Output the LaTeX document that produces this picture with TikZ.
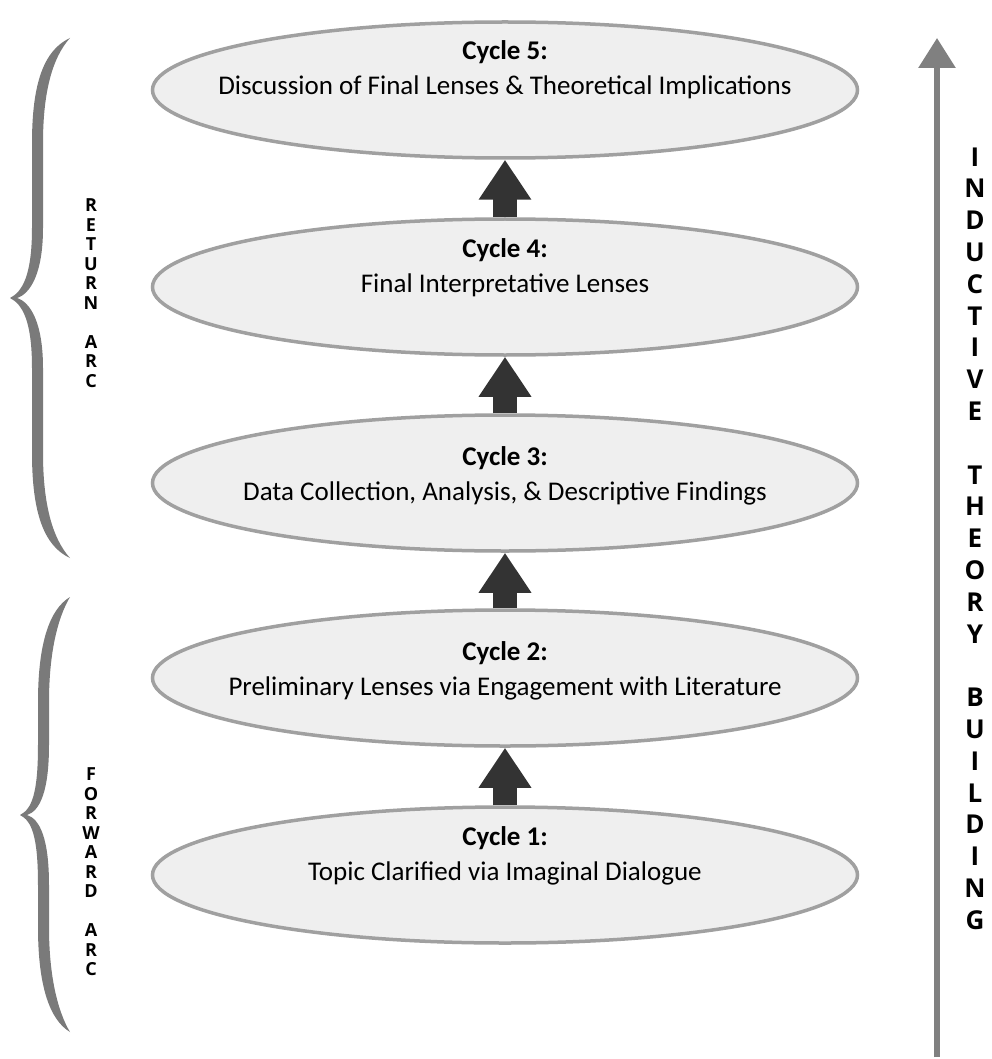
\documentclass[tikz,border=0pt]{standalone}
\usepackage{fontspec}
\setmainfont{Carlito}
\newfontfamily\letterfont{Open Sans}
\usetikzlibrary{arrows.meta,shapes.geometric}
\definecolor{ellfill}{HTML}{EFEFEF}
\definecolor{elldraw}{HTML}{A0A0A0}
\definecolor{arrdark}{HTML}{333333}
\definecolor{bracecol}{HTML}{7A7A7A}
\definecolor{rightcol}{HTML}{808080}
% #1 top y, #2 tip y, #3 bottom y, #4 tip x, #5 bar left x
\newcommand\bracefill[5]{%
\fill[bracecol] (70,#1) .. controls ({#5+12},{#1+12}) and (#5,{#1+45}) .. (#5,{#1+105})
 -- (#5,{#2-70}) .. controls (#5,{#2-22}) and ({#4+12},{#2-6}) .. (#4,#2)
 .. controls ({#4+12},{#2+6}) and (#5,{#2+22}) .. (#5,{#2+70})
 -- (#5,{#3-105}) .. controls (#5,{#3-45}) and ({#5+12},{#3-12}) .. (70,#3)
 .. controls ({#5+20},{#3-20}) and ({#5+11},{#3-55}) .. ({#5+11},{#3-105})
 -- ({#5+11},{#2+70}) .. controls ({#5+11},{#2+24}) and ({#4+20},{#2+4}) .. ({#4+7},#2)
 .. controls ({#4+20},{#2-4}) and ({#5+11},{#2-24}) .. ({#5+11},{#2-70})
 -- ({#5+11},{#1+105}) .. controls ({#5+11},{#1+55}) and ({#5+20},{#1+20}) .. (70,#1) -- cycle;}
\begin{document}
\begin{tikzpicture}[x=1pt,y=-1pt,
  cycle/.style={ellipse, draw=elldraw, line width=3.5pt, fill=ellfill,
    minimum width=705pt, minimum height=136pt, inner sep=0pt},
  cyctext/.style={align=center, font=\fontsize{27}{35}\selectfont, text=black, inner sep=0pt},
  uparrow/.style={draw=arrdark, line width=24pt, -{Triangle[width=50pt,length=40pt]}},
  bigarrow/.style={draw=rightcol, line width=6pt, -{Triangle[width=36pt,length=30pt]}},
  rightletters/.style={align=center, font=\letterfont\bfseries\fontsize{26}{31.8}\selectfont, inner sep=0pt},
  leftletters/.style={align=center, font=\letterfont\bfseries\fontsize{18}{19.5}\selectfont, inner sep=0pt}]
\useasboundingbox (0,0) rectangle (991,1059);
\fill[white] (0,0) rectangle (991,1059);

\node[cycle] (c5) at (505,90) {};
\node[cycle] (c4) at (505,287) {};
\node[cycle] (c3) at (505,483) {};
\node[cycle] (c2) at (505,678) {};
\node[cycle] (c1) at (505,875) {};

\node[cyctext] (t5) at (505,70) {\textbf{Cycle 5:}\\Discussion of Final Lenses \& Theoretical Implications};
\node[cyctext] (t4) at (505,268) {\textbf{Cycle 4:}\\Final Interpretative Lenses};
\node[cyctext] (t3) at (505,476) {\textbf{Cycle 3:}\\Data Collection, Analysis, \& Descriptive Findings};
\node[cyctext] (t2) at (505,671) {\textbf{Cycle 2:}\\Preliminary Lenses via Engagement with Literature};
\node[cyctext] (t1) at (505,856) {\textbf{Cycle 1:}\\Topic Clarified via Imaginal Dialogue};

\draw[uparrow] (c1.north) -- (c2.south);
\draw[uparrow] (c2.north) -- (c3.south);
\draw[uparrow] (c3.north) -- (c4.south);
\draw[uparrow] (c4.north) -- (c5.south);

\coordinate (rb) at (937,1057);
\coordinate (rt) at (937,38);
\draw[bigarrow] (rb) -- (rt);

\node[rightletters] (ind) at (975,538.5) {I\\N\\D\\U\\C\\T\\I\\V\\E\\[31.8pt]T\\H\\E\\O\\R\\Y\\[31.8pt]B\\U\\I\\L\\D\\I\\N\\G};

\bracefill{38}{298}{558}{10}{32}
\bracefill{597}{815}{1032}{20}{38}

\node[leftletters] (ret) at (91,293) {R\\E\\T\\U\\R\\N\\[19.5pt]A\\R\\C};
\node[leftletters] (fwd) at (91,872) {F\\O\\R\\W\\A\\R\\D\\[19.5pt]A\\R\\C};
\end{tikzpicture}
\end{document}
